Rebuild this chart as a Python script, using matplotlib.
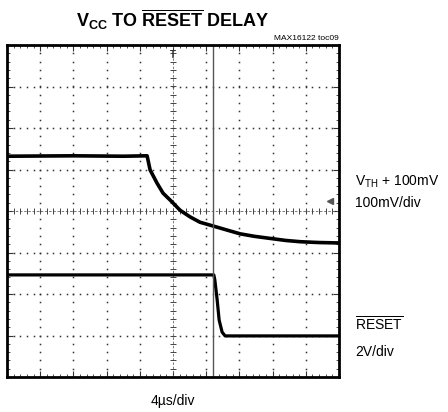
import numpy as np
import matplotlib.pyplot as plt

plt.rcParams['font.family'] = ['Liberation Sans', 'DejaVu Sans']
plt.rcParams['mathtext.fontset'] = 'custom'
plt.rcParams['mathtext.rm'] = 'Liberation Sans'
plt.rcParams['mathtext.bf'] = 'Liberation Sans:bold'
plt.rcParams['mathtext.it'] = 'Liberation Sans:italic'

# scope traces in divisions (x: 4us/div, y: div from center)
vcc_t = [-5.0, -3.0, -1.5, -0.78, -0.69, -0.48, -0.30, -0.03, 0.21, 0.51, 0.81,
         1.20, 1.63, 2.02, 2.45, 2.92, 3.40, 3.83, 4.40, 5.0]
vcc_v = [1.32, 1.33, 1.32, 1.33, 0.99, 0.67, 0.43, 0.22, 0.02, -0.14, -0.27,
         -0.36, -0.46, -0.55, -0.61, -0.66, -0.71, -0.74, -0.76, -0.77]

reset_t = [-5.0, -2.0, 1.23, 1.26, 1.33, 1.39, 1.48, 1.57, 3.0, 5.0]
reset_v = [-1.54, -1.54, -1.54, -1.66, -2.14, -2.63, -2.92, -3.01, -3.01, -3.01]

cursor_t = 1.2
ch1_marker = 0.24

fig = plt.figure(figsize=(4.48, 4.12), dpi=100)
ax = fig.add_axes([7 / 448, 35 / 412, 332 / 448, 332 / 412])
ax.set_xlim(-5, 5)
ax.set_ylim(-4, 4)

# dotted graticule
minor_x = np.arange(-5, 5.01, 0.2)
minor_y = np.arange(-4, 4.01, 0.2)
for k in range(-4, 5):
    if k != 0:
        ax.plot(np.full_like(minor_y, k), minor_y, 's', ms=1.1, color='#333333', mew=0)
for j in range(-3, 4):
    if j != 0:
        ax.plot(minor_x, np.full_like(minor_x, j), 's', ms=1.1, color='#333333', mew=0)

# center cross with small ticks
ax.axhline(0, color='#666666', lw=0.6, dashes=(3, 2))
ax.axvline(0, color='#666666', lw=0.6, dashes=(3, 2))
ax.plot(minor_x, np.zeros_like(minor_x), '|', ms=4, mew=0.7, color='#444444')
ax.plot(np.zeros_like(minor_y), minor_y, '_', ms=4, mew=0.7, color='#444444')

# traces
ax.plot(vcc_t, vcc_v, color='black', lw=2.6, solid_joinstyle='round')
ax.plot(reset_t, reset_v, color='black', lw=2.3, solid_joinstyle='round')

# cursor, trigger and channel markers
ax.axvline(cursor_t, color='#555555', lw=1.0)
ax.text(0, 3.88, 'T', ha='center', va='top', fontsize=7, fontweight='bold', color='#333333')
ax.plot([4.72], [ch1_marker], '<', ms=4.5, color='#555555')

ax.set_xticks(range(-5, 6))
ax.set_yticks(range(-4, 5))
ax.set_xticks(minor_x, minor=True)
ax.set_yticks(minor_y, minor=True)
ax.tick_params(which='both', direction='in', top=True, right=True,
               labelbottom=False, labelleft=False, color='#333333')
ax.tick_params(which='major', length=4, width=0.8)
ax.tick_params(which='minor', length=2.5, width=0.6)
for s in ax.spines.values():
    s.set_linewidth(2.0)

fig.text(173 / 448, 1 - 20 / 412,
         r'$\mathbf{V_{CC}\ TO\ \overline{RESET}\ DELAY}$',
         ha='center', va='center', fontsize=13)
fig.text(339 / 448, 1 - 38 / 412, 'MAX16122 toc09', ha='right', va='center', fontsize=6)
fig.text(355 / 448, 1 - 182 / 412, r'V$_{\mathrm{TH}}$ + 100mV', ha='left', va='center', fontsize=10)
fig.text(355 / 448, 1 - 203 / 412, '100mV/div', ha='left', va='center', fontsize=10)
fig.text(355 / 448, 1 - 324 / 412, r'$\overline{\mathrm{RESET}}$', ha='left', va='center', fontsize=10)
fig.text(355 / 448, 1 - 352 / 412, '2V/div', ha='left', va='center', fontsize=10)
fig.text(173 / 448, 1 - 401 / 412, '4µs/div', ha='center', va='center', fontsize=10)

fig.savefig('out.png', dpi=100)
